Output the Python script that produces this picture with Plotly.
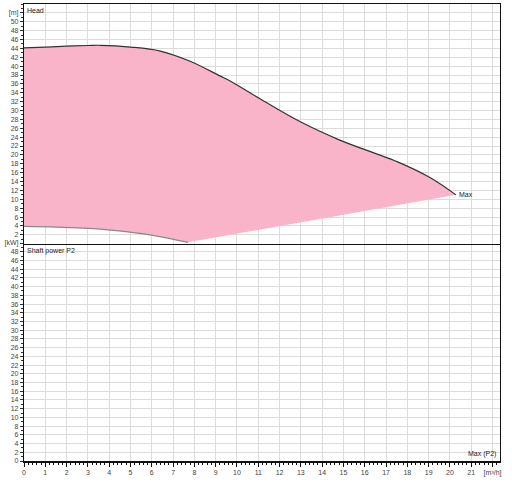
import plotly.graph_objects as go

# Head curve (upper boundary) [m] vs flow [m³/h]
head_q = [0, 1.0, 2.0, 3.0, 3.6, 5.0, 6.4, 7.8, 9.2, 9.7, 11.1, 13.0, 14.8, 17.65, 19.06, 20.28]
head_h = [44.1, 44.3, 44.5, 44.65, 44.7, 44.3, 43.4, 41.1, 37.8, 36.6, 32.6, 27.4, 23.4, 18.2, 14.9, 11.0]

# Lower boundary of the operating range
low_q = [0, 1.5, 3.6, 4.8, 5.9, 6.8, 7.7]
low_h = [3.9, 3.75, 3.3, 2.7, 2.0, 1.2, 0.3]

# Max point
max_q = 20.28
max_h = 11.0

x_ticks = list(range(0, 23))
x_labels = [str(v) for v in range(0, 22)] + ["[m³/h]"]
head_ticks = list(range(2, 54, 2))
head_labels = [str(v) for v in range(2, 52, 2)] + ["[m]"]
power_ticks = list(range(0, 52, 2))
power_labels = [str(v) for v in range(0, 50, 2)] + ["[kW]"]

fill_col = "#FAB4CA"

fig = go.Figure()
fig.add_trace(go.Scatter(
    x=low_q + [max_q], y=low_h + [max_h], mode="lines",
    line=dict(color="rgba(0,0,0,0)", width=0), xaxis="x2", yaxis="y2",
    showlegend=False, hoverinfo="skip"))
fig.add_trace(go.Scatter(
    x=head_q, y=head_h, mode="lines", line=dict(color="#333333", width=1.2, shape="spline"),
    fill="tonexty", fillcolor=fill_col, xaxis="x2", yaxis="y2", showlegend=False))
fig.add_trace(go.Scatter(
    x=low_q, y=low_h, mode="lines", line=dict(color="#8a8a8a", width=1.2, shape="spline"),
    xaxis="x2", yaxis="y2", showlegend=False))
fig.add_trace(go.Scatter(x=[None], y=[None], xaxis="x", yaxis="y", showlegend=False))

tickfont = dict(family="Liberation Sans, Arial, sans-serif", size=7, color="#444444")
grid = "#dcdcdc"
txtfont = dict(family="Liberation Sans, Arial, sans-serif", size=7, color="#222")

fig.update_layout(
    width=512, height=482,
    margin=dict(l=24, r=12, t=4, b=21),
    paper_bgcolor="white", plot_bgcolor="white",
    xaxis=dict(range=[0, 22.35], tickvals=x_ticks, ticktext=x_labels, tickfont=tickfont,
               showgrid=True, gridcolor=grid, gridwidth=1, zeroline=False,
               showline=True, linecolor="#111111", linewidth=2, mirror=True,
               ticks="outside", ticklen=4, tickcolor="#111111", automargin=False,
               minor=dict(dtick=0.2, ticks="outside", ticklen=2, tickcolor="#111111", showgrid=False),
               anchor="y"),
    xaxis2=dict(range=[0, 22.35], tickvals=x_ticks, showticklabels=False,
                showgrid=True, gridcolor=grid, gridwidth=1, zeroline=False,
                showline=True, linecolor="#111111", linewidth=1.2, mirror=True,
                ticks="", anchor="y2", matches="x", automargin=False),
    yaxis=dict(domain=[0, 0.477], range=[0, 50], tickvals=power_ticks, ticktext=power_labels,
               tickfont=tickfont, showgrid=True, gridcolor=grid, gridwidth=1, zeroline=False,
               showline=True, linecolor="#111111", linewidth=1.2, mirror=True,
               ticks="outside", ticklen=3, tickcolor="#333333", automargin=False,
               minor=dict(dtick=1, ticks="outside", ticklen=2, tickcolor="#333333", showgrid=False),
               anchor="x"),
    yaxis2=dict(domain=[0.4755, 1], range=[0, 54], tickvals=head_ticks, ticktext=head_labels,
                tickfont=tickfont, showgrid=True, gridcolor=grid, gridwidth=1, zeroline=False,
                showline=True, linecolor="#111111", linewidth=1.2, mirror=True,
                ticks="outside", ticklen=3, tickcolor="#333333", automargin=False,
                minor=dict(dtick=1, ticks="outside", ticklen=2, tickcolor="#333333", showgrid=False),
                anchor="x2"),
    annotations=[
        dict(text="Head", xref="x2 domain", yref="y2 domain", x=0.003, y=0.995,
             xanchor="left", yanchor="top", showarrow=False, font=txtfont),
        dict(text="Shaft power P2", xref="x domain", yref="y domain", x=0.003, y=0.99,
             xanchor="left", yanchor="top", showarrow=False, font=txtfont),
        dict(text="Max", xref="x2", yref="y2", x=max_q, y=max_h,
             xanchor="left", yanchor="middle", showarrow=False, xshift=1, font=txtfont),
        dict(text="Max (P2)", xref="x domain", yref="y domain", x=0.995, y=0.005,
             xanchor="right", yanchor="bottom", showarrow=False, font=txtfont),
    ],
)

fig.write_html("out.html", config={"displayModeBar": False},
               post_script="document.body.style.margin='0px';document.body.style.overflow='hidden';")
